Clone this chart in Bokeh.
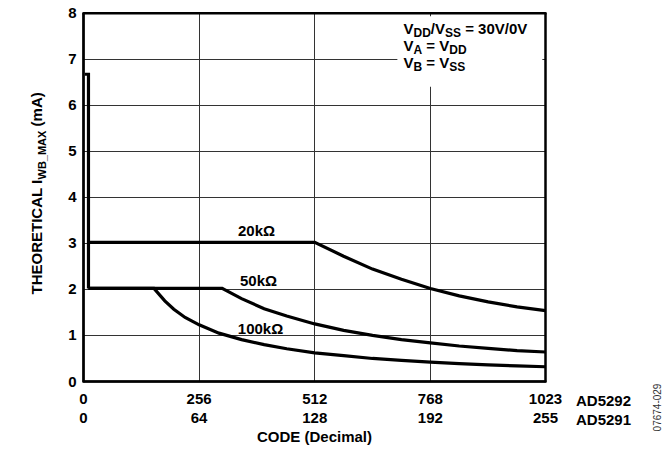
import math
from bokeh.plotting import figure
from bokeh.models import (Label, FixedTicker, BoxAnnotation, Range1d, LinearAxis, Grid)
from bokeh.embed import file_html
from bokeh.resources import INLINE

# ---------------- data ----------------
x_ticks = [0, 256, 512, 768, 1023]
x_labels_ad5292 = ["0", "256", "512", "768", "1023"]
x_labels_ad5291 = ["0", "64", "128", "192", "255"]
y_ticks = [0, 1, 2, 3, 4, 5, 6, 7, 8]

# common start: limit at low codes
start_code = [3, 11, 11]
start_ima = [6.67, 6.67, 2.02]

code_20k = [11, 512, 576, 640, 704, 768, 832, 896, 960, 1023]
ima_20k = [3.02, 3.02, 2.72, 2.44, 2.22, 2.02, 1.86, 1.73, 1.62, 1.54]

code_50k = [11, 307, 350, 400, 450, 512, 576, 640, 704, 768, 832, 896, 960, 1023]
ima_50k = [2.02, 2.02, 1.80, 1.58, 1.42, 1.25, 1.11, 1.00, 0.91, 0.84, 0.77, 0.72, 0.67, 0.64]

code_100k = [11, 156, 180, 200, 225, 256, 300, 350, 400, 450, 512, 576, 640, 704, 768, 832, 896, 960, 1023]
ima_100k = [2.02, 2.02, 1.75, 1.57, 1.39, 1.23, 1.05, 0.91, 0.80, 0.71, 0.62, 0.56, 0.50, 0.46, 0.42, 0.39, 0.36, 0.34, 0.32]

curve_names = ["20kΩ", "50kΩ", "100kΩ"]
part_names = ["AD5292", "AD5291"]
x_title = "CODE (Decimal)"
fig_id = "07674-029"

# ---------------- layout (pixels of the canvas) ----------------
W, H = 667, 450
PX0, PX1 = 83.0, 545.0      # pixel x of code 0 and code 1023
PY0, PY8 = 381.0, 12.5      # pixel y of 0 mA and 8 mA
X_MIN, X_MAX = 0, 1023
Y_MIN, Y_MAX = 0, 8
sx_per = (PX1 - PX0) / (X_MAX - X_MIN)
sy_per = (PY0 - PY8) / (Y_MAX - Y_MIN)
x_start = X_MIN - PX0 / sx_per
x_end = X_MIN + (W - PX0) / sx_per
y_start = Y_MIN - (H - PY0) / sy_per
y_end = Y_MIN + PY0 / sy_per
EX = 1.0 / sx_per   # 1 px in data units
EY = 1.0 / sy_per

FONT = "Liberation Sans"
GRID_COLOR = "#333333"
BASE_K = 0.35   # label baseline correction, fraction of font size
AW = {' ': 278, '(': 333, ')': 333, '-': 333, '/': 278, '=': 584, '_': 556,
      'A': 722, 'B': 722, 'C': 722, 'D': 722, 'E': 667, 'H': 722, 'I': 278,
      'L': 611, 'M': 833, 'O': 778, 'R': 722, 'S': 667, 'T': 611, 'V': 667,
      'W': 944, 'X': 667, 'a': 556, 'm': 889, 'k': 556}


def tw(s, size):
    return sum(AW.get(c, 556) for c in s) / 1000.0 * size


p = figure(width=W, height=H, x_range=Range1d(x_start, x_end), y_range=Range1d(y_start, y_end),
           x_axis_location=None, y_axis_location=None,
           output_backend="svg", toolbar_location=None, min_border=0)
p.background_fill_color = "white"
p.border_fill_color = "white"
p.outline_line_color = None

# grid lines limited to the plot box, plus the box border (as bounded grids)
p.center = [r for r in p.center if not isinstance(r, Grid)]
if "cross_bounds" in Grid.properties():
    p.add_layout(Grid(dimension=0, ticker=FixedTicker(ticks=x_ticks),
                      bounds=(X_MIN, X_MAX), cross_bounds=(Y_MIN, Y_MAX),
                      grid_line_color=GRID_COLOR, grid_line_width=1))
    p.add_layout(Grid(dimension=1, ticker=FixedTicker(ticks=y_ticks),
                      bounds=(Y_MIN, Y_MAX), cross_bounds=(X_MIN, X_MAX),
                      grid_line_color=GRID_COLOR, grid_line_width=1))
    p.add_layout(Grid(dimension=0, ticker=FixedTicker(ticks=[X_MIN, X_MAX]),
                      bounds=(X_MIN - EX, X_MAX + EX), cross_bounds=(Y_MIN - EY, Y_MAX + EY),
                      grid_line_color="black", grid_line_width=2))
    p.add_layout(Grid(dimension=1, ticker=FixedTicker(ticks=[Y_MIN, Y_MAX]),
                      bounds=(Y_MIN - EY, Y_MAX + EY), cross_bounds=(X_MIN - EX, X_MAX + EX),
                      grid_line_color="black", grid_line_width=2))
else:
    p.segment(x0=x_ticks, y0=[Y_MIN] * len(x_ticks), x1=x_ticks, y1=[Y_MAX] * len(x_ticks),
              line_color=GRID_COLOR, line_width=1)
    p.segment(x0=[X_MIN] * len(y_ticks), y0=y_ticks, x1=[X_MAX] * len(y_ticks), y1=y_ticks,
              line_color=GRID_COLOR, line_width=1)

# white box behind the conditions text
p.add_layout(BoxAnnotation(left=695, right=1016, bottom=6.40, top=7.93,
                           fill_color="white", fill_alpha=1.0, line_color=None, level="underlay"))


def style_axis(ax):
    ax.axis_line_color = "black"
    ax.axis_line_width = 2
    ax.major_tick_line_color = None
    ax.minor_tick_line_color = None
    ax.major_tick_out = 0
    ax.major_tick_in = 0
    ax.major_label_text_font = FONT
    ax.major_label_text_font_style = "bold"
    ax.major_label_text_font_size = "15px"
    ax.major_label_text_color = "black"
    ax.axis_label_text_font = FONT
    ax.axis_label_text_font_style = "bold"
    ax.axis_label_text_font_size = "15px"
    ax.axis_label_text_color = "black"


xa1 = LinearAxis(fixed_location=Y_MIN, bounds=(X_MIN, X_MAX), ticker=FixedTicker(ticks=x_ticks),
                 major_label_overrides={t: l for t, l in zip(x_ticks, x_labels_ad5292)})
style_axis(xa1)
xa1.major_label_standoff = 12
p.add_layout(xa1, "below")

xa2 = LinearAxis(fixed_location=Y_MIN, bounds=(X_MIN, X_MAX), ticker=FixedTicker(ticks=x_ticks),
                 major_label_overrides={t: l for t, l in zip(x_ticks, x_labels_ad5291)},
                 axis_label=x_title)
style_axis(xa2)
xa2.axis_line_color = None
xa2.major_label_standoff = 31
xa2.axis_label_standoff = 2
p.add_layout(xa2, "below")

ya = LinearAxis(fixed_location=X_MIN, bounds=(Y_MIN, Y_MAX), ticker=FixedTicker(ticks=y_ticks))
style_axis(ya)
ya.major_label_standoff = 7
p.add_layout(ya, "left")

# plot box border as a quad glyph over the data extent
p.quad(left=[X_MIN], right=[X_MAX], bottom=[Y_MIN], top=[Y_MAX],
       fill_color=None, line_color="black", line_width=2)

LW = 3.2
p.line(start_code, start_ima, line_color="black", line_width=LW, line_join="miter")
p.line(code_20k, ima_20k, line_color="black", line_width=LW, line_join="miter")
p.line(code_50k, ima_50k, line_color="black", line_width=LW, line_join="miter")
p.line(code_100k, ima_100k, line_color="black", line_width=LW, line_join="miter")


def put(text, px, py, size, align="left", baseline="alphabetic", angle=0.0,
        style="bold", color="black"):
    # px, py: canvas pixels from top-left (py = baseline for alphabetic)
    if baseline == "alphabetic":
        if angle == 0.0:
            py -= BASE_K * size
        else:
            px -= BASE_K * size
    p.add_layout(Label(x=px, y=H - py, x_units="screen", y_units="screen", text=text,
                       text_font=FONT, text_font_style=style,
                       text_font_size=f"{size}px", text_align=align,
                       text_baseline=baseline, angle=angle, text_color=color))


def seq(pieces, px, py, rotated=False):
    pos = 0.0
    for txt, size, shift in pieces:
        body = txt.lstrip(" ")
        pos += tw(txt[:len(txt) - len(body)], size)
        if not rotated:
            put(body, px + pos, py + shift, size)
        else:
            put(body, px + shift, py - pos, size, angle=math.pi / 2)
        pos += tw(body, size)


# conditions text
seq([("V", 15, 0), ("DD", 12, 4), ("/V", 15, 0), ("SS", 12, 4), (" = 30V/0V", 15, 0)], 403, 33)
seq([("V", 15, 0), ("A", 12, 4), (" = V", 15, 0), ("DD", 12, 4)], 403, 50)
seq([("V", 15, 0), ("B", 12, 4), (" = V", 15, 0), ("SS", 12, 4)], 403, 67)

# y-axis title (rotated, reads bottom to top)
seq([("THEORETICAL I", 15, 0), ("WB_MAX", 11, 3.5), (" (mA)", 15, 0)], 41.5, 294, rotated=True)

# curve labels
put(curve_names[0], 256, 235.5, 15, align="center")
put(curve_names[1], 258, 285, 15, align="center")
put(curve_names[2], 260, 333, 15, align="center")

# part names at the right of the two code rows
put(part_names[0], 575.5, 405, 15)
put(part_names[1], 575.5, 424.5, 15)

put(fig_id, 656, 407, 10, align="center", baseline="middle", angle=math.pi / 2,
    style="normal", color="#333333")

open("out.html", "w").write(file_html(p, INLINE))
